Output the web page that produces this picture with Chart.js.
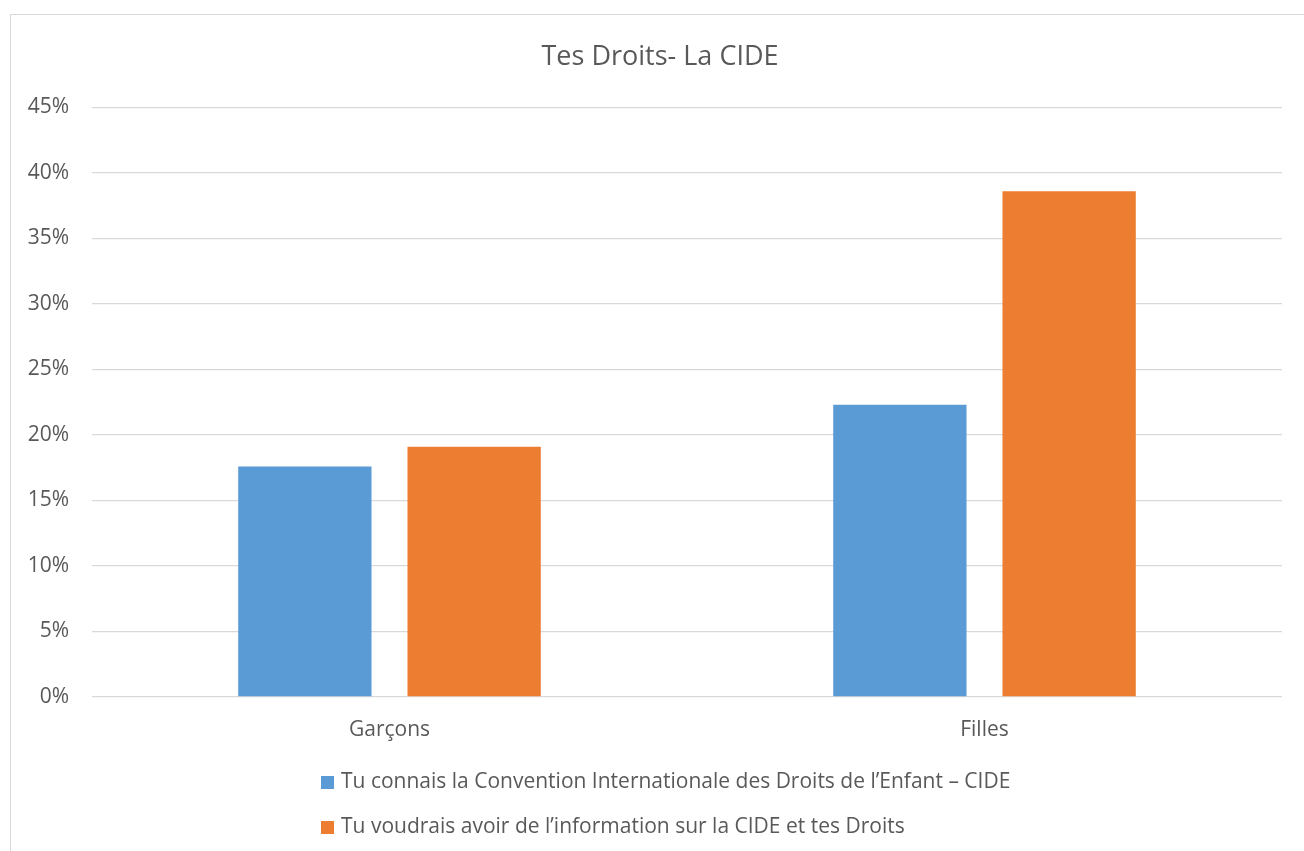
<!DOCTYPE html>
<html lang="fr">
<head>
<meta charset="utf-8">
<title>Tes Droits- La CIDE</title>
<script src="https://cdn.jsdelivr.net/npm/chart.js@4.4.1/dist/chart.umd.min.js"></script>
<style>
    html, body { margin: 0; padding: 0; background: #fff; overflow: hidden; }
    #frame {
        position: absolute; left: 10px; top: 14px;
        width: 1400px; height: 900px;
        border: 1px solid #d9d9d9;
    }
    #wrap { position: absolute; left: 0; top: 0; width: 1304px; height: 851px; }
</style>
</head>
<body>
<div id="frame"></div>
<div id="wrap"><canvas id="cideChart"></canvas></div>
<script>
/* =============================
   DATA
============================== */
const categories = ["Garçons", "Filles"];
const seriesNames = [
    "Tu connais la Convention Internationale des Droits de l’Enfant – CIDE",
    "Tu voudrais avoir de l’information sur la CIDE et tes Droits"
];
const connaisValues = [17.6, 22.3];
const voudraisValues = [19.1, 38.6];
const tickValues = [0, 5, 10, 15, 20, 25, 30, 35, 40, 45];

const TEXT = "#595959";
const FONT = "'Open Sans', sans-serif";
const colors = ["#5B9BD5", "#ED7D31"];

/* =============================
   LEGEND (two left-aligned rows)
============================== */
const rowLegend = {
    id: "rowLegend",
    afterLayout(chart) {
        // centre the title on the framed chart box, not the padded canvas
        if (chart.titleBlock) {
            chart.titleBlock.left = 38;
            chart.titleBlock.right = 1282;
        }
    },
    afterDraw(chart) {
        const ctx = chart.ctx;
        ctx.save();
        ctx.font = "21px " + FONT;
        ctx.textBaseline = "middle";
        chart.data.datasets.forEach((ds, i) => {
            const y = 782 + i * 45;
            ctx.fillStyle = ds.backgroundColor;
            ctx.fillRect(321, y - 6, 13, 13);
            ctx.fillStyle = TEXT;
            ctx.fillText(ds.label, 341, y);
        });
        ctx.restore();
    }
};

new Chart(document.getElementById("cideChart"), {
    type: "bar",
    data: {
        labels: categories,
        datasets: [
            { label: seriesNames[0], data: connaisValues, backgroundColor: colors[0] },
            { label: seriesNames[1], data: voudraisValues, backgroundColor: colors[1] }
        ]
    },
    options: {
        responsive: true,
        maintainAspectRatio: false,
        animation: false,
        categoryPercentage: 0.569,
        barPercentage: 0.7875,
        layout: { padding: { left: 10, right: 22, top: 0, bottom: 109 } },
        plugins: {
            legend: { display: false },
            tooltip: { enabled: false },
            title: {
                display: true,
                text: "Tes Droits- La CIDE",
                color: TEXT,
                font: { family: FONT, size: 27, weight: "normal", lineHeight: 1.2 },
                padding: { top: 41, bottom: 34 }
            }
        },
        scales: {
            x: {
                grid: { display: false },
                border: { display: false },
                ticks: { color: TEXT, font: { family: FONT, size: 21 }, padding: 12 },
                afterFit: s => { s.height = 45; }
            },
            y: {
                min: 0,
                max: 45,
                afterBuildTicks: s => { s.ticks = tickValues.map(v => ({ value: v })); },
                grid: { color: "#d9d9d9", lineWidth: 1.3, drawTicks: false },
                border: { display: false },
                ticks: {
                    color: TEXT,
                    font: { family: FONT, size: 21 },
                    padding: 23,
                    callback: v => v + "%"
                },
                afterFit: s => { s.width = 82; }
            }
        }
    },
    plugins: [rowLegend]
});
</script>
</body>
</html>
